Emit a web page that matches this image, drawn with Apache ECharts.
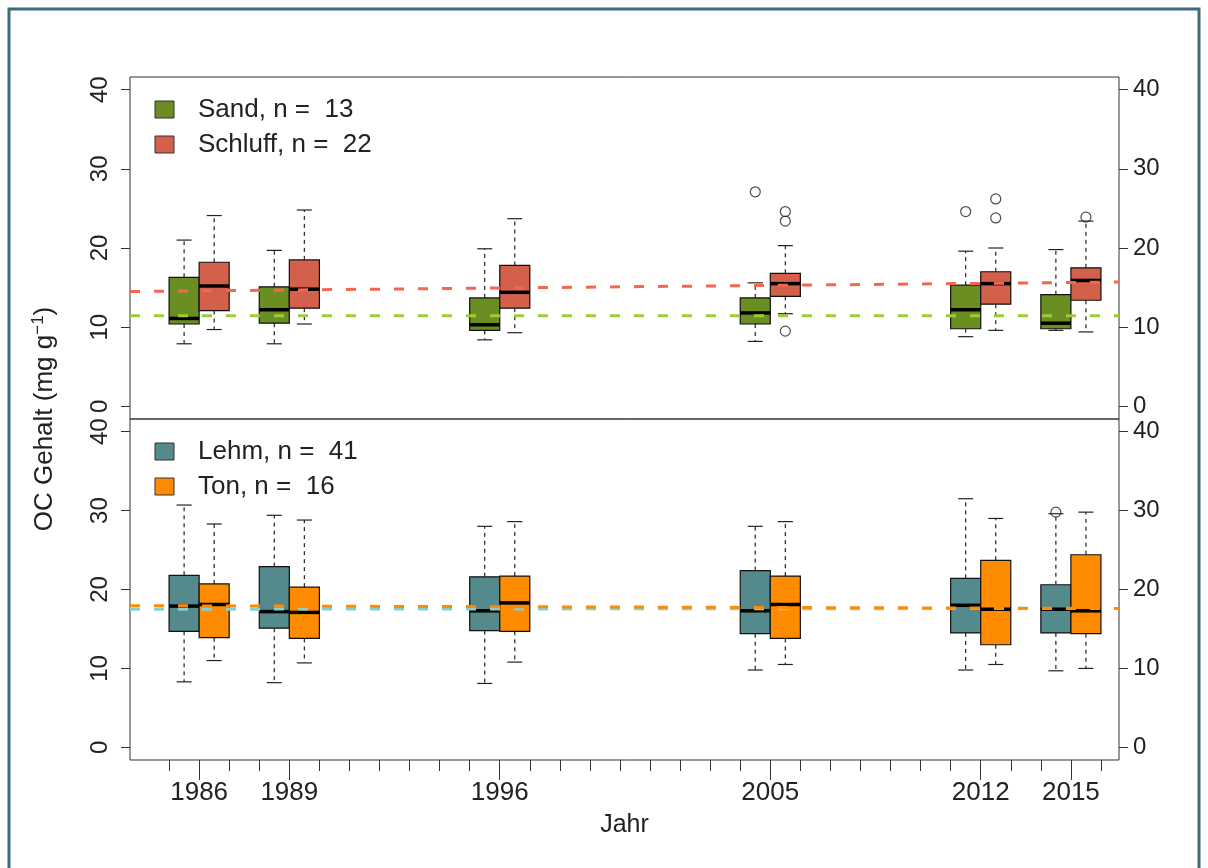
<!DOCTYPE html>
<html><head><meta charset="utf-8">
<script src="https://cdn.jsdelivr.net/npm/echarts@6/dist/echarts.min.js"></script>
<style>html,body{margin:0;padding:0;background:#fff}#c{width:1208px;height:868px}</style>
</head><body><div id="c"></div>
<script>
// ---- data ----
const years = [1986, 1989, 1996, 2005, 2012, 2015];
const minorTickYears = [1985,1986,1987,1988,1989,1990,1991,1992,1993,1994,1995,1996,1997,1998,1999,2000,2001,2002,2003,2004,2005,2006,2007,2008,2009,2010,2011,2012,2013,2014,2015,2016];
const yTicks = [0, 10, 20, 30, 40];
// [lowWhisker, Q1, median, Q3, highWhisker]
const sandStats = [[7.9,10.4,11.1,16.3,21.0],[7.9,10.5,12.2,15.1,19.7],[8.4,9.6,10.3,13.7,19.9],[8.2,10.4,11.8,13.7,15.6],[8.8,9.8,12.2,15.3,19.6],[9.6,9.8,10.5,14.1,19.8]];
const schluffStats = [[9.7,12.1,15.2,18.2,24.1],[10.4,12.4,14.8,18.5,24.8],[9.3,12.4,14.4,17.8,23.7],[11.7,13.9,15.5,16.8,20.3],[9.6,12.9,15.5,17.0,20.0],[9.4,13.4,15.9,17.5,23.4]];
const lehmStats = [[8.3,14.7,17.9,21.8,30.7],[8.2,15.1,17.2,22.9,29.4],[8.1,14.8,17.3,21.6,28.0],[9.8,14.4,17.3,22.4,28.0],[9.8,14.5,18.0,21.4,31.5],[9.7,14.5,17.5,20.6,29.6]];
const tonStats = [[11.0,13.9,18.1,20.7,28.3],[10.7,13.8,17.1,20.3,28.8],[10.8,14.7,18.3,21.7,28.6],[10.5,13.8,18.1,21.7,28.6],[10.5,13.0,17.5,23.7,29.0],[10.0,14.4,17.3,24.4,29.8]];
// outliers: [year, value]
const sandOutliers = [[2005,27.1],[2012,24.6]];
const schluffOutliers = [[2005,24.6],[2005,23.4],[2005,9.5],[2012,26.2],[2012,23.8],[2015,23.9]];
const lehmOutliers = [[2015,29.8]];
const tonOutliers = [];
// trend lines: value at left and right edge
const sandTrend = [11.45, 11.45];
const schluffTrend = [14.5, 15.7];
const lehmTrend = [17.5, 17.6];
const tonTrend = [17.95, 17.6];
const legendTop = ['Sand, n =  13', 'Schluff, n =  22'];
const legendBottom = ['Lehm, n =  41', 'Ton, n =  16'];

// ---- layout / style ----
const X_MIN = 1983.7, X_MAX = 2016.6, Y_MIN = -1.6, Y_MAX = 41.6;
const FONT = '"Liberation Sans", Arial, sans-serif';
const C = {sand:'#6b8e23', schluff:'#d2604a', lehm:'#548a8b', ton:'#ff8c00',
           sandT:'#9acd32', schluffT:'#f2674e', lehmT:'#86d0d4', tonT:'#ff8c00'};

function boxRender(off, color) {
  return function (params, api) {
    const x = api.value(0);
    const lo = api.value(1), q1 = api.value(2), md = api.value(3), q3 = api.value(4), hi = api.value(5);
    const xl = api.coord([x + off, 0])[0], xr = api.coord([x + off + 1, 0])[0];
    const xc = (xl + xr) / 2, hw = (xr - xl) / 4;
    const y = v => api.coord([x, v])[1];
    const dash = {stroke:'#222', lineWidth:1.2, lineDash:[4,4]};
    const solid = {stroke:'#222', lineWidth:1.2};
    return {type:'group', children:[
      {type:'line', shape:{x1:xc,y1:y(q3),x2:xc,y2:y(hi)}, style:dash},
      {type:'line', shape:{x1:xc,y1:y(q1),x2:xc,y2:y(lo)}, style:dash},
      {type:'line', shape:{x1:xc-hw,y1:y(hi),x2:xc+hw,y2:y(hi)}, style:solid},
      {type:'line', shape:{x1:xc-hw,y1:y(lo),x2:xc+hw,y2:y(lo)}, style:solid},
      {type:'rect', shape:{x:xl,y:y(q3),width:xr-xl,height:y(q1)-y(q3)}, style:{fill:color, stroke:'#111', lineWidth:1.2}},
      {type:'line', shape:{x1:xl,y1:y(md),x2:xr,y2:y(md)}, style:{stroke:'#000', lineWidth:3.5}}
    ]};
  };
}
function boxSeries(name, stats, off, color, xi, yi) {
  return {type:'custom', name, xAxisIndex:xi, yAxisIndex:yi, z:2,
    itemStyle:{color}, renderItem: boxRender(off, color),
    data: years.map((yr, i) => [yr].concat(stats[i]))};
}
function outlierSeries(name, pts, off, xi, yi) {
  return {type:'scatter', name, xAxisIndex:xi, yAxisIndex:yi, z:4, symbol:'circle', symbolSize:10,
    itemStyle:{color:'rgba(255,255,255,0)', borderColor:'#222', borderWidth:1.2}, silent:true,
    data: pts.map(p => [p[0] + off + 0.5, p[1]])};
}
function trendSeries(name, tr, color, xi, yi) {
  return {type:'line', name, xAxisIndex:xi, yAxisIndex:yi, z:3, symbol:'none', silent:true,
    lineStyle:{color, width:3, type:[10,14]},
    data:[[X_MIN, tr[0]], [X_MAX, tr[1]]]};
}
function yAx(grid, side) {
  const left = side === 'left';
  return {type:'value', gridIndex:grid, position:side, min:Y_MIN, max:Y_MAX,
    splitLine:{show:false}, axisLine:{show:false, onZero:false},
    axisTick:{show:true, length:9, customValues:yTicks, lineStyle:{color:'#333'}},
    axisLabel:{customValues:yTicks, rotate: left ? 90 : 0, margin: left ? 18 : 14,
      color:'#222', fontSize:24, fontFamily:FONT}};
}
function legendGraphic(labels, colors, top) {
  const els = [];
  labels.forEach((t, i) => {
    const y = top + i * 35;
    els.push({type:'rect', shape:{x:155, y:y, width:19, height:17}, style:{fill:colors[i], stroke:'#333', lineWidth:1}});
    els.push({type:'text', x:198, y:y + 8.5, style:{text:t, font:'26px ' + FONT, fill:'#222', textVerticalAlign:'middle'}});
  });
  return els;
}

const chart = echarts.init(document.getElementById('c'), null, {renderer:'canvas'});
chart.setOption({
  backgroundColor:'#fff',
  animation:false,
  grid:[
    {left:130, right:89, top:77, height:342, show:true, borderColor:'#333', borderWidth:1, backgroundColor:'transparent'},
    {left:130, right:89, top:419, height:341, show:true, borderColor:'#333', borderWidth:1, backgroundColor:'transparent'}
  ],
  xAxis:[
    {type:'value', gridIndex:0, min:X_MIN, max:X_MAX, show:false, axisLine:{onZero:false}},
    {type:'value', gridIndex:1, min:X_MIN, max:X_MAX, position:'bottom', splitLine:{show:false}, axisLine:{show:false, onZero:false},
      axisTick:{customValues:minorTickYears, length:11, lineStyle:{color:'#333'}}, axisLabel:{show:false}},
    {type:'value', gridIndex:1, min:X_MIN, max:X_MAX, position:'bottom', offset:0, splitLine:{show:false}, axisLine:{show:false, onZero:false},
      axisTick:{customValues:years, length:20, lineStyle:{color:'#333'}},
      axisLabel:{customValues:years, formatter: v => String(v), margin:20, color:'#222', fontSize:26, fontFamily:FONT},
      name:'Jahr', nameLocation:'middle', nameGap:53, nameTextStyle:{color:'#222', fontSize:25, fontFamily:FONT}}
  ],
  yAxis:[yAx(0,'left'), yAx(0,'right'), yAx(1,'left'), yAx(1,'right')],
  series:[
    boxSeries(legendTop[0], sandStats, -1, C.sand, 0, 0),
    boxSeries(legendTop[1], schluffStats, 0, C.schluff, 0, 0),
    boxSeries(legendBottom[0], lehmStats, -1, C.lehm, 1, 2),
    boxSeries(legendBottom[1], tonStats, 0, C.ton, 1, 2),
    trendSeries('Sand trend', sandTrend, C.sandT, 0, 0),
    trendSeries('Schluff trend', schluffTrend, C.schluffT, 0, 0),
    trendSeries('Lehm trend', lehmTrend, C.lehmT, 1, 2),
    trendSeries('Ton trend', tonTrend, C.tonT, 1, 2),
    outlierSeries('Sand outliers', sandOutliers, -1, 0, 0),
    outlierSeries('Schluff outliers', schluffOutliers, 0, 0, 0),
    outlierSeries('Lehm outliers', lehmOutliers, -1, 1, 2),
    outlierSeries('Ton outliers', tonOutliers, 0, 1, 2)
  ],
  graphic:[
    {type:'rect', shape:{x:9, y:9, width:1190, height:880}, style:{fill:'none', stroke:'#3d6b80', lineWidth:3}, silent:true},
    {type:'text', x:45, y:419, rotation:Math.PI/2,
      style:{text:'OC Gehalt (mg g{s|−1})', font:'26px ' + FONT, fill:'#222', textAlign:'center', textVerticalAlign:'middle',
        rich:{s:{fontSize:17, fontFamily:FONT, verticalAlign:'top', padding:[0,0,13,0]}}}}
  ].concat(legendGraphic(legendTop, [C.sand, C.schluff], 101), legendGraphic(legendBottom, [C.lehm, C.ton], 443))
});
</script></body></html>
